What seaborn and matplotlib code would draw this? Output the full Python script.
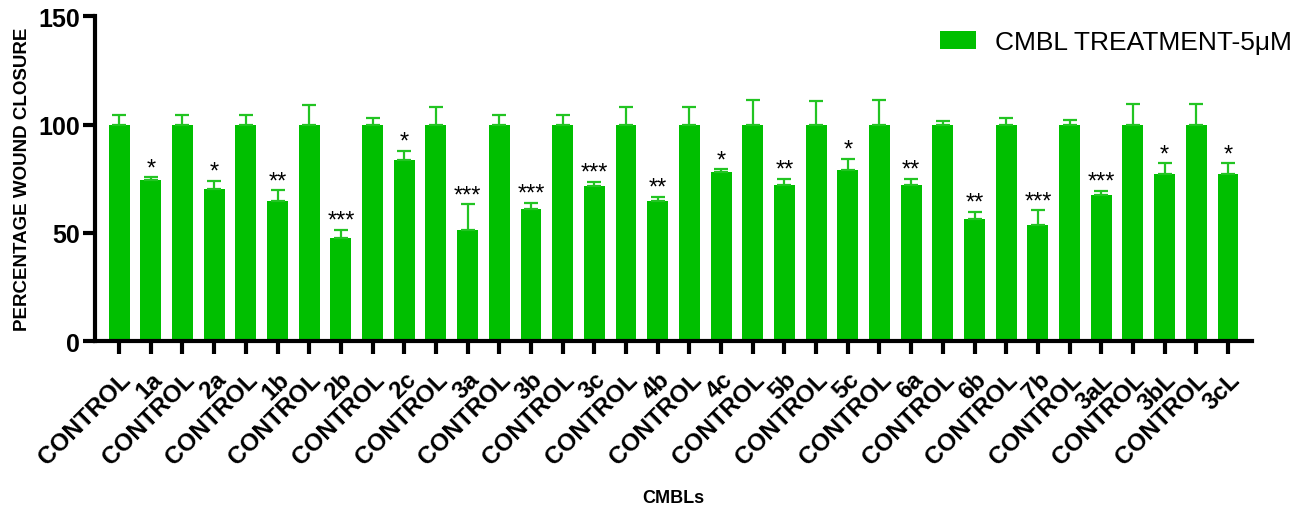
import numpy as np
import pandas as pd
import matplotlib
matplotlib.use("Agg")
import matplotlib.pyplot as plt
import seaborn as sns
from matplotlib.patches import Patch

labels = ["CONTROL", "1a", "CONTROL", "2a", "CONTROL", "1b", "CONTROL", "2b",
          "CONTROL", "2c", "CONTROL", "3a", "CONTROL", "3b", "CONTROL", "3c",
          "CONTROL", "4b", "CONTROL", "4c", "CONTROL", "5b", "CONTROL", "5c",
          "CONTROL", "6a", "CONTROL", "6b", "CONTROL", "7b", "CONTROL", "3aL",
          "CONTROL", "3bL", "CONTROL", "3cL"]
values = [100, 74.3, 100, 70.3, 100, 64.5, 100, 47.5,
          100, 83.8, 100, 51.1, 100, 60.9, 100, 71.7,
          100, 64.5, 100, 78.2, 100, 72.0, 100, 79.2,
          100, 72.0, 100, 56.5, 100, 53.7, 100, 67.3,
          100, 77.0, 100, 77.0]
errors = [4.4, 1.3, 4.4, 3.7, 4.4, 5.1, 9.1, 3.9,
          3.1, 4.2, 7.9, 12.0, 4.4, 3.0, 4.4, 1.9,
          7.9, 2.2, 7.9, 1.1, 11.5, 2.8, 11.1, 4.9,
          11.5, 2.8, 1.7, 3.3, 3.0, 6.6, 2.2, 2.2,
          9.7, 5.1, 9.7, 5.1]
stars = ["", "*", "", "*", "", "**", "", "***",
         "", "*", "", "***", "", "***", "", "***",
         "", "**", "", "*", "", "**", "", "*",
         "", "**", "", "**", "", "***", "", "***",
         "", "*", "", "*"]

green = "#00BF00"
sns.set_theme(style="white")
plt.rcParams['font.family'] = ['Liberation Sans', 'DejaVu Sans']
plt.rcParams['text.color'] = 'black'
plt.rcParams['axes.labelcolor'] = 'black'
plt.rcParams['xtick.color'] = 'black'
plt.rcParams['ytick.color'] = 'black'

df = pd.DataFrame({"key": [f"{i}" for i in range(len(labels))],
                   "value": values})

fig = plt.figure(figsize=(13.16, 5.10), dpi=100)
ax = fig.add_axes([0.0722, 0.3294, 0.8792, 0.6366])

sns.barplot(data=df, x="key", y="value", order=list(df["key"]), color=green,
            saturation=1, width=0.66, errorbar=None, ax=ax, linewidth=0)

xpos = np.arange(len(labels))
ax.errorbar(xpos, values, yerr=[np.zeros(len(errors)), errors], fmt="none",
            ecolor="#22C422", elinewidth=1.6, capsize=5, capthick=1.6, zorder=3)

for x, v, e, s in zip(xpos, values, errors, stars):
    if s:
        ax.text(x, v + e - 0.8, s, ha="center", va="bottom", fontsize=17,
                color="black")

ax.set_xlim(-0.76, len(labels) - 1 + 0.76)
ax.set_ylim(0, 150)
ax.set_yticks([0, 50, 100, 150])
ax.set_yticklabels(["0", "50", "100", "150"], fontsize=18, fontweight="bold")
ax.set_xticks(xpos)
ax.set_xticklabels(labels, rotation=45, ha="right", rotation_mode="anchor",
                   fontsize=17.5, fontweight="bold")

for side in ["top", "right"]:
    ax.spines[side].set_visible(False)
for side in ["left", "bottom"]:
    ax.spines[side].set_linewidth(3)
    ax.spines[side].set_color("black")
ax.tick_params(axis="both", which="major", direction="out", length=9,
               width=3, color="black", bottom=True, left=True)
ax.tick_params(axis="x", pad=10)
ax.tick_params(axis="y", pad=2)

ax.set_xlabel("CMBLs", fontsize=13, fontweight="bold")
ax.xaxis.set_label_coords(0.5, -0.455)
ax.set_ylabel("PERCENTAGE WOUND CLOSURE", fontsize=13.5, fontweight="bold")
ax.yaxis.set_label_coords(-0.055, 0.5)

handles = [Patch(facecolor=green, edgecolor="none", label="CMBL TREATMENT-5\u03bcM")]
fig.legend(handles=handles, loc="upper right", bbox_to_anchor=(1.0, 0.985),
           frameon=False, fontsize=19, handlelength=1.35, handleheight=0.7,
           handletextpad=0.75)

fig.savefig("out.png", dpi=100)
